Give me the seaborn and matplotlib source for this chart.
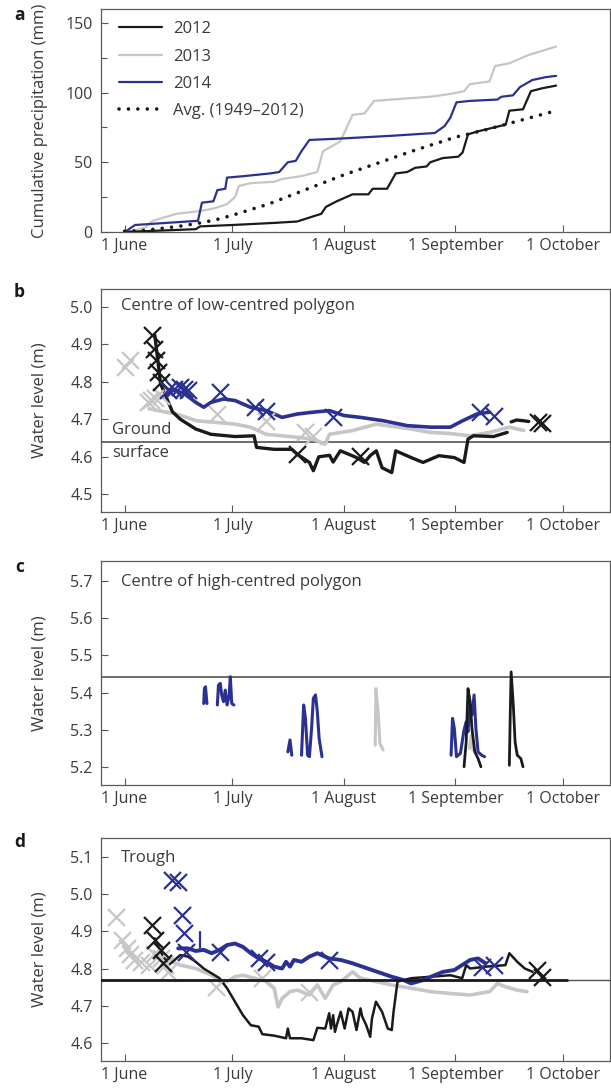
import seaborn as sns
import matplotlib.pyplot as plt

# x values are days after 1 June
month_days = [0, 30, 61, 92, 122]
month_labels = ['1 June', '1 July', '1 August', '1 September', '1 October']

colors = {'2012': '#1a1a1a', '2013': '#c6c6c6', '2014': '#2b3192'}

# ---- a: cumulative precipitation (mm)
a12_day = [0, 10, 19.8, 21, 30, 41.6, 48, 51, 54.7, 56, 59, 63.4, 67.8, 69, 73, 75.4, 78.6, 80.8,
           84, 85, 88.5, 92.8, 94, 95.5, 98, 106, 107, 110.8, 113, 116, 120]
a12_mm = [0, 1, 2, 4, 5.0, 6.5, 7.5, 10, 13, 18, 22, 27, 27, 31, 31, 42, 43, 46,
          47, 50, 53, 54, 57, 70, 72, 77, 87, 88, 101, 103, 105]
a13_day = [1, 5.7, 7.8, 14.4, 21, 25, 28.5, 30.7, 31.8, 35, 41.6, 43.8, 49, 53.6, 55.2, 58, 60,
           63.4, 66.7, 69.4, 74.3, 85, 90.6, 94.4, 96, 101.5, 103, 107, 112.4, 120]
a13_mm = [0, 3, 8, 13, 15, 17, 20, 25, 33, 35, 36, 38, 40, 43, 58, 62, 65,
          84, 85, 94, 95, 97, 99, 101, 106, 108, 119, 121, 127, 133]
a14_day = [0.1, 2.9, 20.4, 21.5, 24.7, 25.8, 28, 28.5, 33, 40.5, 43, 45.4, 47.6, 49.2, 51.4, 60,
           74.3, 86.3, 89, 90.6, 92.3, 96, 103.7, 104.8, 108, 110, 113.4, 117, 120]
a14_mm = [0, 5, 8, 21, 22, 30, 31, 39, 40, 42, 43, 50, 51, 58, 66, 67,
          69, 71, 76, 82, 93, 94, 95, 97, 98, 104, 109, 111, 112]
avg_day = [0, 5, 10, 15, 20, 25, 30, 40, 50, 61, 70, 80, 92, 100, 110, 120]
avg_mm = [0.5, 1, 2.5, 4, 6, 8.5, 12, 20, 30, 41, 49, 58, 68, 73, 80, 87]

# ---- b: centre of low-centred polygon, water level (m)
b12_day = [8.4, 10, 13.3, 15.5, 19.8, 24, 30.7, 36, 36.7, 41.6, 46.5, 48, 51.4, 52.5, 54, 57, 58,
           60, 62.3, 64.5, 66.7, 68.3, 70, 71.6, 74.3, 75.4, 79.7, 83, 87.4, 91.7, 94.4, 95.5, 97,
           102.6, 106.4]
b12_lvl = [4.924, 4.795, 4.72, 4.70, 4.674, 4.66, 4.654, 4.656, 4.625, 4.62, 4.62, 4.607, 4.585,
           4.563, 4.60, 4.604, 4.586, 4.616, 4.607, 4.598, 4.585, 4.603, 4.616, 4.571, 4.558,
           4.616, 4.598, 4.585, 4.603, 4.598, 4.585, 4.647, 4.656, 4.654, 4.665]
b12b_day = [107.5, 109, 111, 112.4]
b12b_lvl = [4.693, 4.698, 4.696, 4.694]
b12_x_day = [7.6, 8.2, 8.7, 9.3, 10, 48, 65.6, 115, 116]
b12_x_lvl = [4.924, 4.886, 4.857, 4.826, 4.80, 4.607, 4.603, 4.692, 4.69]

b13_day = [6.8, 11, 14.4, 20, 25, 30.7, 35, 39.4, 43.8, 48, 52.5, 55.8, 57, 63.4, 70, 79.7, 85,
           90.6, 96, 101.5, 107, 111]
b13_lvl = [4.728, 4.72, 4.714, 4.696, 4.692, 4.687, 4.679, 4.66, 4.656, 4.652, 4.647, 4.634, 4.66,
           4.67, 4.687, 4.674, 4.665, 4.662, 4.656, 4.665, 4.679, 4.67]
b13_x_day = [0.1, 1.5, 6.5, 7.3, 8.5, 10, 25.8, 39.4, 50.3, 52.5]
b13_x_lvl = [4.84, 4.857, 4.745, 4.75, 4.757, 4.763, 4.714, 4.696, 4.665, 4.656]

b14_day = [11.7, 13.3, 16.6, 19.8, 22, 24, 27.5, 30.7, 35, 39.4, 43.8, 48, 52.5, 57, 61, 65.6,
           72, 78.6, 85, 90.6, 94, 98, 101.5]
b14_lvl = [4.768, 4.78, 4.768, 4.745, 4.732, 4.745, 4.754, 4.75, 4.732, 4.723, 4.705, 4.714,
           4.719, 4.723, 4.71, 4.705, 4.696, 4.683, 4.679, 4.679, 4.696, 4.714, 4.719]
b14_x_day = [12.2, 13.8, 15.5, 16.6, 17.7, 26.4, 36.2, 39.4, 58, 98.8, 102.6]
b14_x_lvl = [4.777, 4.78, 4.786, 4.78, 4.777, 4.772, 4.732, 4.723, 4.705, 4.719, 4.71]

# ---- c: centre of high-centred polygon (separate record pieces)
c14_pieces = [
    ([22.0, 22.2, 22.5, 22.9], [5.371, 5.411, 5.416, 5.371]),
    ([25.8, 26.1, 26.6, 27.0, 27.5, 28.0, 28.5, 29.1, 29.4, 29.8, 30.4],
     [5.367, 5.420, 5.425, 5.394, 5.376, 5.407, 5.367, 5.394, 5.443, 5.371, 5.367]),
    ([45.4, 46.0, 46.5], [5.241, 5.273, 5.232]),
    ([49.2, 49.8, 50.3, 50.9, 51.4, 52.0, 52.5, 53.1, 53.6, 54.1, 54.9],
     [5.232, 5.367, 5.331, 5.232, 5.228, 5.304, 5.385, 5.394, 5.349, 5.277, 5.228]),
    ([90.8, 91.2, 91.7, 92.3, 93.4, 94.4, 95.0, 95.5, 96.1, 96.6, 97.2, 97.7, 98.3, 99.3, 100.1],
     [5.232, 5.331, 5.304, 5.228, 5.237, 5.300, 5.322, 5.295, 5.367, 5.340, 5.394, 5.304,
      5.241, 5.232, 5.228]),
]
c13_pieces = [
    ([69.7, 69.9, 70.5, 71.0, 71.9], [5.259, 5.411, 5.349, 5.264, 5.246]),
    ([95.9, 96.4, 96.9], [5.250, 5.286, 5.246]),
]
c12_pieces = [
    ([94.4, 95.0, 95.5, 96.1, 96.6, 97.4, 98.3, 99.1],
     [5.201, 5.268, 5.411, 5.376, 5.304, 5.241, 5.223, 5.201]),
    ([107.0, 107.3, 107.5, 108.1, 108.6, 109.2, 110.2, 110.8],
     [5.205, 5.367, 5.456, 5.367, 5.268, 5.232, 5.223, 5.201]),
]

# ---- d: trough
d12_day = [8.4, 10.0, 11.1, 12.2, 14.4, 15.5, 17.6, 19.8, 22.0, 24.2, 26.4, 28.5, 30.7, 32.9,
           35.1, 37.3, 38.3, 41.6, 44.9, 45.4, 46.0, 49.2, 52.5, 53.6, 55.8, 56.9, 57.4, 58.0,
           58.5, 59.0, 60.1, 61.2, 62.3, 63.4, 64.5, 65.6, 66.1, 67.2, 68.3, 68.8, 69.9, 71.6,
           73.2, 74.3, 74.8, 75.9, 79.7, 85.2, 90.6, 93.9, 95.0, 96.1, 100.4, 105.9, 107.0, 109.2,
           111.3, 113.5]
d12_lvl = [4.881, 4.845, 4.827, 4.809, 4.827, 4.836, 4.832, 4.818, 4.800, 4.787, 4.774, 4.747,
           4.711, 4.675, 4.648, 4.644, 4.624, 4.620, 4.613, 4.639, 4.613, 4.613, 4.608, 4.641,
           4.639, 4.680, 4.639, 4.675, 4.630, 4.648, 4.684, 4.639, 4.693, 4.684, 4.635, 4.693,
           4.671, 4.648, 4.617, 4.666, 4.711, 4.684, 4.639, 4.635, 4.684, 4.765, 4.774, 4.778,
           4.782, 4.774, 4.809, 4.800, 4.805, 4.809, 4.841, 4.818, 4.800, 4.791]
d12_x_day = [7.6, 8.5, 10.0, 10.6, 114.6, 116.2]
d12_x_lvl = [4.917, 4.876, 4.850, 4.814, 4.796, 4.778]

d13_day = [11.1, 13.3, 15.5, 17.6, 19.8, 22.0, 24.2, 26.4, 28.5, 30.7, 32.9, 36.2, 39.4, 41.6,
           42.7, 43.8, 46.0, 48.1, 51.4, 53.6, 55.8, 58.0, 60.1, 63.4, 65.6, 69.9, 74.3, 79.7,
           85.2, 90.6, 96.1, 101.5, 103.7, 105.9, 109.2, 111.9]
d13_lvl = [4.827, 4.818, 4.809, 4.805, 4.800, 4.791, 4.782, 4.765, 4.765, 4.778, 4.782, 4.774,
           4.765, 4.747, 4.697, 4.720, 4.738, 4.742, 4.729, 4.756, 4.720, 4.756, 4.765, 4.791,
           4.774, 4.765, 4.756, 4.747, 4.738, 4.733, 4.729, 4.738, 4.760, 4.751, 4.742, 4.738]
d13_x_day = [-2.4, -0.6, 0.6, 1.6, 2.6, 4.6, 6.8, 8.2, 10.0, 11.1, 12.2, 25.3, 38.3, 51.4]
d13_x_lvl = [4.938, 4.876, 4.855, 4.838, 4.823, 4.818, 4.809, 4.838, 4.827, 4.809, 4.791,
             4.751, 4.774, 4.738]

d14_day = [14.9, 17.6, 19.8, 22.0, 24.2, 26.4, 28.5, 30.7, 32.9, 35.1, 37.3, 39.4, 41.6, 43.8,
           44.9, 46.0, 47.1, 49.2, 51.4, 53.6, 56.9, 60.1, 63.4, 68.8, 74.3, 77.6, 79.7, 83.0,
           85.2, 88.5, 91.7, 96.1, 98.3, 100.4]
d14_lvl = [4.854, 4.854, 4.847, 4.850, 4.841, 4.850, 4.863, 4.867, 4.858, 4.841, 4.827, 4.818,
           4.805, 4.800, 4.818, 4.805, 4.823, 4.818, 4.832, 4.841, 4.827, 4.823, 4.814, 4.796,
           4.778, 4.769, 4.760, 4.769, 4.778, 4.791, 4.796, 4.823, 4.827, 4.814]
d14_tick_day = [21.1, 21.1]
d14_tick_lvl = [4.899, 4.854]
d14_x_day = [13.3, 14.9, 16.0, 16.6, 17.1, 26.4, 37.3, 39.4, 56.9, 99.3, 102.6]
d14_x_lvl = [5.037, 5.033, 4.943, 4.894, 4.845, 4.845, 4.827, 4.818, 4.823, 4.805, 4.810]

ground = {'b': 4.64, 'c': 5.443, 'd': 4.77}

TEXT = '#3a3a3a'
FS = 12      # labels, legend, in-panel text
TICK_FS = 11.5

sns.set_style('ticks')
plt.rcParams['font.family'] = ['Open Sans', 'DejaVu Sans']
plt.rcParams['font.size'] = FS
plt.rcParams['text.color'] = TEXT
plt.rcParams['axes.labelcolor'] = TEXT

fig = plt.figure(figsize=(6.11, 10.88), dpi=100)
left, width = 0.1653, 0.8331
ax_a = fig.add_axes([left, 0.7868, width, 0.2050])
ax_b = fig.add_axes([left, 0.5294, width, 0.2050])
ax_c = fig.add_axes([left, 0.2785, width, 0.2059])
ax_d = fig.add_axes([left, 0.0248, width, 0.2050])


def style_axes(ax, ylab):
    for s in ax.spines.values():
        s.set_visible(True)
        s.set_color('#5a5a5a')
        s.set_linewidth(0.9)
    ax.set_xlim(-6.56, 135)
    ax.set_xticks(month_days)
    ax.set_xticklabels(month_labels)
    ax.tick_params(which='both', direction='in', color='#5a5a5a', width=0.8,
                   labelsize=TICK_FS, labelcolor=TEXT, top=False, right=False)
    ax.tick_params(axis='y', pad=6)
    ax.tick_params(axis='x', pad=4)
    ax.tick_params(which='major', length=5)
    ax.tick_params(which='minor', length=4)
    ax.set_xlabel('')
    ax.set_ylabel(ylab, fontsize=FS)
    ax.yaxis.set_label_coords(-0.105, 0.5)


def line(ax, d, v, year, lw, **kw):
    sns.lineplot(x=d, y=v, ax=ax, color=colors[year], lw=lw, sort=False,
                 estimator=None, **kw)


def crosses(ax, d, v, year):
    sns.scatterplot(x=d, y=v, ax=ax, marker='x', s=150, linewidth=1.6,
                    color=colors[year], zorder=4)


# a
line(ax_a, a12_day, a12_mm, '2012', 1.6, label='2012', zorder=3)
line(ax_a, a13_day, a13_mm, '2013', 1.6, label='2013', zorder=2)
line(ax_a, a14_day, a14_mm, '2014', 1.6, label='2014', zorder=3)
sns.lineplot(x=avg_day, y=avg_mm, ax=ax_a, color='#1a1a1a', lw=2.6, sort=False,
             estimator=None, linestyle=(0, (0.01, 2.6)), dash_capstyle='round',
             label='Avg. (1949\u20132012)', zorder=4)
ax_a.set_ylim(0, 160)
ax_a.set_yticks([0, 50, 100, 150])
ax_a.set_yticks([25, 75, 125], minor=True)
style_axes(ax_a, 'Cumulative precipitation (mm)')
ax_a.legend(loc='upper left', bbox_to_anchor=(0.035, 0.945), frameon=False, borderpad=0,
            borderaxespad=0, handlelength=2.6, handletextpad=0.65, labelspacing=0.68,
            fontsize=FS)

# b
ax_b.axhline(ground['b'], color='#444444', lw=1.1, zorder=1)
line(ax_b, b13_day, b13_lvl, '2013', 2.6, zorder=2)
line(ax_b, b12_day, b12_lvl, '2012', 2.4, zorder=3)
line(ax_b, b12b_day, b12b_lvl, '2012', 2.4, zorder=3)
line(ax_b, b14_day, b14_lvl, '2014', 2.6, zorder=3)
crosses(ax_b, b13_x_day, b13_x_lvl, '2013')
crosses(ax_b, b12_x_day, b12_x_lvl, '2012')
crosses(ax_b, b14_x_day, b14_x_lvl, '2014')
ax_b.set_ylim(4.453, 5.047)
ax_b.set_yticks([4.5, 4.6, 4.7, 4.8, 4.9, 5.0])
ax_b.set_yticklabels(['4.5', '4.6', '4.7', '4.8', '4.9', '5.0'])
style_axes(ax_b, 'Water level (m)')
ax_b.text(0.039, 0.924, 'Centre of low-centred polygon', transform=ax_b.transAxes,
          fontsize=FS, va='center')
ax_b.text(-3.4, 4.672, 'Ground', fontsize=FS, va='center')
ax_b.text(-3.4, 4.611, 'surface', fontsize=FS, va='center')

# c
ax_c.axhline(ground['c'], color='#444444', lw=1.1, zorder=1)
for d, v in c13_pieces:
    line(ax_c, d, v, '2013', 2.2, zorder=2)
for d, v in c14_pieces:
    line(ax_c, d, v, '2014', 2.2, zorder=3)
for d, v in c12_pieces:
    line(ax_c, d, v, '2012', 2.0, zorder=3)
ax_c.set_ylim(5.152, 5.754)
ax_c.set_yticks([5.2, 5.3, 5.4, 5.5, 5.6, 5.7])
ax_c.set_yticklabels(['5.2', '5.3', '5.4', '5.5', '5.6', '5.7'])
style_axes(ax_c, 'Water level (m)')
ax_c.text(0.039, 0.908, 'Centre of high-centred polygon', transform=ax_c.transAxes,
          fontsize=FS, va='center')

# d
ax_d.axhline(ground['d'], color='#555555', lw=1.0, zorder=1)
sns.lineplot(x=[-6.56, 123], y=[ground['d'], ground['d']], ax=ax_d, color='#1a1a1a',
             lw=2.0, sort=False, estimator=None, zorder=5)
line(ax_d, d13_day, d13_lvl, '2013', 2.6, zorder=2)
line(ax_d, d12_day, d12_lvl, '2012', 1.8, zorder=3)
line(ax_d, d14_day, d14_lvl, '2014', 2.8, zorder=3)
line(ax_d, d14_tick_day, d14_tick_lvl, '2014', 1.6, zorder=3)
crosses(ax_d, d13_x_day, d13_x_lvl, '2013')
crosses(ax_d, d12_x_day, d12_x_lvl, '2012')
crosses(ax_d, d14_x_day, d14_x_lvl, '2014')
ax_d.set_ylim(4.552, 5.15)
ax_d.set_yticks([4.6, 4.7, 4.8, 4.9, 5.0, 5.1])
ax_d.set_yticklabels(['4.6', '4.7', '4.8', '4.9', '5.0', '5.1'])
style_axes(ax_d, 'Water level (m)')
ax_d.text(0.039, 0.91, 'Trough', transform=ax_d.transAxes, fontsize=FS, va='center')

for letter, y in zip('abcd', [15, 292, 567, 842]):
    fig.text(0.032, 1 - y / 1088, letter, fontsize=12.5, fontweight='bold',
             color='#1a1a1a', ha='center', va='center')

fig.savefig('out.png', dpi=100)
plt.close(fig)
